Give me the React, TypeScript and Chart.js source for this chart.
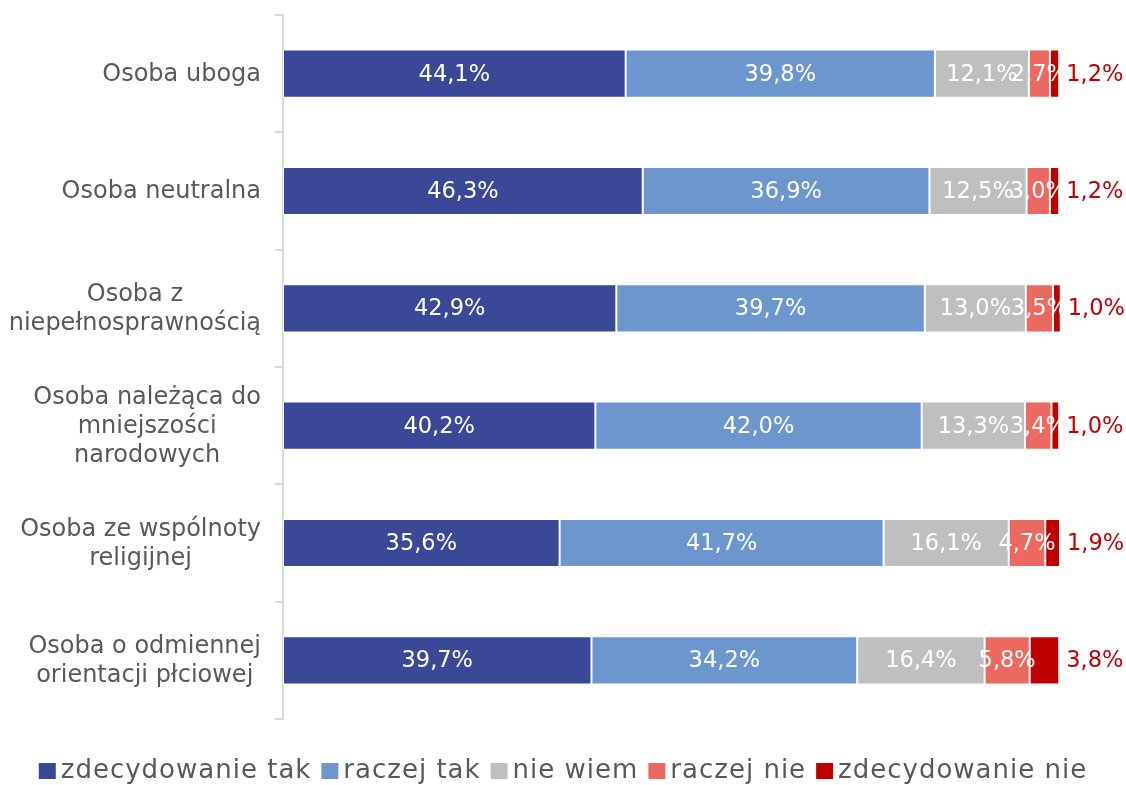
import React, { useEffect, useRef } from "react";
import { Chart, registerables } from "chart.js";

Chart.register(...registerables);

const categories: string[][] = [
  ["Osoba uboga"],
  ["Osoba neutralna"],
  ["Osoba z", "niepełnosprawnością"],
  ["Osoba należąca do", "mniejszości", "narodowych"],
  ["Osoba ze wspólnoty", "religijnej"],
  ["Osoba o odmiennej", "orientacji płciowej"],
];

const seriesNames = ["zdecydowanie tak", "raczej tak", "nie wiem", "raczej nie", "zdecydowanie nie"];
const seriesColors = ["#3A4897", "#6E96CE", "#BFBFBF", "#EC6961", "#C00000"];

const zdecydowanieTak = [44.1, 46.3, 42.9, 40.2, 35.6, 39.7];
const raczejTak = [39.8, 36.9, 39.7, 42.0, 41.7, 34.2];
const nieWiem = [12.1, 12.5, 13.0, 13.3, 16.1, 16.4];
const raczejNie = [2.7, 3.0, 3.5, 3.4, 4.7, 5.8];
const zdecydowanieNie = [1.2, 1.2, 1.0, 1.0, 1.9, 3.8];

const seriesValues = [zdecydowanieTak, raczejTak, nieWiem, raczejNie, zdecydowanieNie];

const FONT = "'DejaVu Sans', 'Century Gothic', sans-serif";
const TEXT_COLOR = "#595959";

const fmt = (v: number) => v.toFixed(1).replace(".", ",") + "%";

const valueLabelsPlugin = {
  id: "valueLabels",
  afterDatasetsDraw(chart: any) {
    const ctx = chart.ctx;
    ctx.save();
    ctx.font = `22.5px ${FONT}`;
    ctx.textBaseline = "middle";
    chart.data.datasets.forEach((ds: any, di: number) => {
      const meta = chart.getDatasetMeta(di);
      const last = di === chart.data.datasets.length - 1;
      meta.data.forEach((el: any, i: number) => {
        const v = ds.data[i];
        const text = fmt(v);
        if (last) {
          ctx.fillStyle = "#C00000";
          ctx.textAlign = "left";
          ctx.fillText(text, el.x + 7, el.y + 1);
        } else {
          ctx.fillStyle = "#FFFFFF";
          ctx.textAlign = "center";
          ctx.fillText(text, (el.x + el.base) / 2, el.y + 1);
        }
      });
    });
    ctx.restore();
  },
};

const categoryLabelsPlugin = {
  id: "categoryLabels",
  afterDraw(chart: any) {
    const ctx = chart.ctx;
    const yScale = chart.scales.y;
    const lineH = 29;
    const rightX = 261;
    ctx.save();
    ctx.font = `24px ${FONT}`;
    ctx.fillStyle = TEXT_COLOR;
    ctx.textAlign = "center";
    ctx.textBaseline = "middle";
    (chart.data.labels as string[][]).forEach((lines, i) => {
      const cy = yScale.getPixelForValue(i);
      const widths = lines.map((l) => ctx.measureText(l).width);
      const maxW = Math.max(...widths);
      const cx = rightX - maxW / 2;
      const top = cy - ((lines.length - 1) * lineH) / 2;
      lines.forEach((l, j) => ctx.fillText(l, cx, top + j * lineH + 1));
    });
    ctx.restore();
  },
};

const legendPlugin = {
  id: "customLegend",
  afterDraw(chart: any) {
    const ctx = chart.ctx;
    const boxW = 17;
    const boxH = 16;
    const boxGap = 5;
    const itemGap = 10;
    const y = 771;
    ctx.save();
    ctx.font = `26px ${FONT}`;
    try {
      ctx.letterSpacing = "1px";
    } catch (e) {}
    ctx.textBaseline = "middle";
    ctx.textAlign = "left";
    const widths = seriesNames.map((n) => ctx.measureText(n).width);
    const total =
      widths.reduce((a, b) => a + b, 0) + seriesNames.length * (boxW + boxGap) + (seriesNames.length - 1) * itemGap;
    let x = chart.width / 2 - total / 2;
    seriesNames.forEach((n, i) => {
      ctx.fillStyle = seriesColors[i];
      ctx.fillRect(x, y - boxH / 2, boxW, boxH);
      x += boxW + boxGap;
      ctx.fillStyle = TEXT_COLOR;
      ctx.fillText(n, x, y);
      x += widths[i] + itemGap;
    });
    ctx.restore();
  },
};

export default function App() {
  const ref = useRef<HTMLCanvasElement | null>(null);

  useEffect(() => {
    if (!ref.current) return;
    const chart = new Chart(ref.current, {
      type: "bar",
      data: {
        labels: categories as any,
        datasets: seriesNames.map((name, i) => ({
          label: name,
          data: seriesValues[i],
          backgroundColor: seriesColors[i],
          borderColor: "#FFFFFF",
          borderWidth: 1,
          borderSkipped: false,
          categoryPercentage: 1,
          barPercentage: 0.41,
        })),
      },
      options: {
        indexAxis: "y",
        responsive: false,
        devicePixelRatio: 1,
        animation: false,
        layout: { padding: { top: 15, right: 66, bottom: 66, left: 0 } },
        plugins: {
          legend: { display: false },
          tooltip: { enabled: false },
        },
        scales: {
          x: {
            stacked: true,
            display: false,
            min: 0,
            max: 100,
          },
          y: {
            stacked: true,
            afterFit: (s: any) => {
              s.width = 283;
            },
            ticks: { display: false },
            grid: {
              drawOnChartArea: false,
              drawTicks: true,
              tickLength: 8,
              lineWidth: 2,
              color: "#D9D9D9",
              offset: true,
            },
            border: { display: true, color: "#D9D9D9", width: 2 },
          },
        },
      },
      plugins: [valueLabelsPlugin, categoryLabelsPlugin, legendPlugin],
    });
    return () => chart.destroy();
  }, []);

  return (
    <div style={{ position: "absolute", left: 0, top: 0, width: 1126, height: 785, background: "#fff" }}>
      <canvas ref={ref} width={1126} height={785} />
    </div>
  );
}
